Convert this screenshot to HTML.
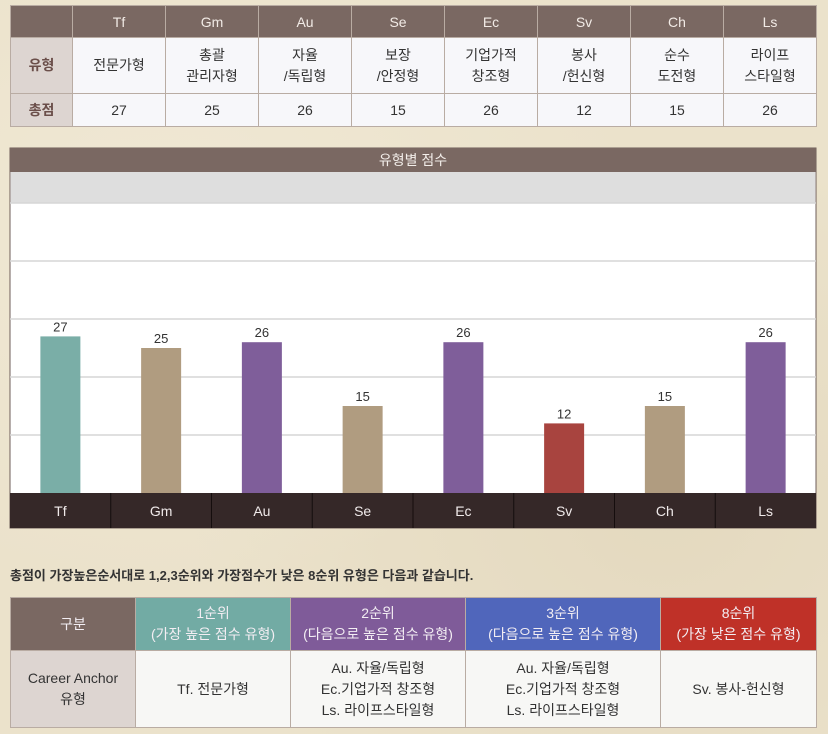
<!DOCTYPE html>
<html><head><meta charset="utf-8">
<style>
body{margin:0;width:828px;height:734px;background:#ebe2cb;font-family:"Liberation Sans","Noto Sans CJK KR",sans-serif;position:relative;overflow:hidden}
.bgt{position:absolute;inset:0;background:radial-gradient(ellipse at 20% 30%,#f0e8d4 0,transparent 50%),radial-gradient(ellipse at 80% 70%,#e4d9bf 0,transparent 50%)}
table{border-collapse:collapse;position:absolute;table-layout:fixed}
td{border:1px solid #b9aca3;text-align:center;font-size:14px;color:#333;padding:0}
#t1{left:10px;top:5px;width:806px}
#t1 .h td{background:#7a6862;color:#f2ebe6;height:31px}
#t1 .lab{background:#ddd5d1;color:#6b4f4a;font-weight:bold}
#t1 .r2 td{height:55px;background:#f7f7fa;line-height:21px}
#t1 .r3 td{height:32px;background:#f7f7fa}
#t1 .r2 td.lab,#t1 .r3 td.lab{background:#ddd5d1}
#t2{left:10px;top:597px;width:806px}
#t2 .h td{height:52px;color:#f3eef3;line-height:21px}
#t2 .b td{height:76px;background:#f7f7f5;line-height:21px;font-size:14px}
#note{position:absolute;left:10px;top:565px;font-size:13px;font-weight:bold;color:#333}
</style></head><body>
<div class="bgt"></div>
<table id="t1">
<colgroup><col style="width:62px"><col span="8" style="width:93px"></colgroup>
<tr class="h"><td></td><td>Tf</td><td>Gm</td><td>Au</td><td>Se</td><td>Ec</td><td>Sv</td><td>Ch</td><td>Ls</td></tr>
<tr class="r2"><td class="lab">유형</td><td>전문가형</td><td>총괄<br>관리자형</td><td>자율<br>/독립형</td><td>보장<br>/안정형</td><td>기업가적<br>창조형</td><td>봉사<br>/헌신형</td><td>순수<br>도전형</td><td>라이프<br>스타일형</td></tr>
<tr class="r3"><td class="lab">총점</td><td>27</td><td>25</td><td>26</td><td>15</td><td>26</td><td>12</td><td>15</td><td>26</td></tr>
</table>

<svg id="chart" style="position:absolute;left:0;top:0" width="828" height="560"></svg>

<div id="note">총점이 가장높은순서대로 1,2,3순위와 가장점수가 낮은 8순위 유형은 다음과 같습니다.</div>

<table id="t2">
<colgroup><col style="width:125px"><col style="width:155px"><col style="width:175px"><col style="width:195px"><col style="width:156px"></colgroup>
<tr class="h"><td style="background:#7a6862">구분</td><td style="background:#72aba4">1순위<br>(가장 높은 점수 유형)</td><td style="background:#7f5b99">2순위<br>(다음으로 높은 점수 유형)</td><td style="background:#5066bb">3순위<br>(다음으로 높은 점수 유형)</td><td style="background:#bf3128">8순위<br>(가장 낮은 점수 유형)</td></tr>
<tr class="b"><td style="background:#ddd5d1">Career Anchor<br>유형</td><td>Tf. 전문가형</td><td>Au. 자율/독립형<br>Ec.기업가적 창조형<br>Ls. 라이프스타일형</td><td>Au. 자율/독립형<br>Ec.기업가적 창조형<br>Ls. 라이프스타일형</td><td>Sv. 봉사-헌신형</td></tr>
</table>

<script>
const categories=["Tf","Gm","Au","Se","Ec","Sv","Ch","Ls"];
const scores=[27,25,26,15,26,12,15,26];
const barColors=["#7aaea7","#b09c80","#7f5e9a","#b09c80","#7f5e9a","#a8443f","#b09c80","#7f5e9a"];
const gridTicks=[10,20,30,40,50];
const NS="http://www.w3.org/2000/svg";
const svg=document.getElementById('chart');
const L=10,R=816,top0=148,plotTop=172,base=493,axB=528;
const pxPerUnit=5.8;
const y=v=>base-v*pxPerUnit;
const slot=(R-L)/categories.length;
const x=i=>L+slot*i+slot/2;
function mk(t,a){const e=document.createElementNS(NS,t);for(const k in a)e.setAttribute(k,a[k]);svg.appendChild(e);return e;}
let e=mk('rect',{x:L,y:top0,width:R-L,height:axB-top0,fill:'#fff',stroke:'#6d5d58'});


e=mk('rect',{x:L,y:top0,width:R-L,height:plotTop-top0,fill:'#7a6862'});


e=mk('text',{x:(L+R)/2,y:top0+17,'text-anchor':'middle','font-size':14,fill:'#f3eeea'});
e.textContent='유형별 점수';


e=mk('rect',{x:L+1,y:plotTop,width:R-L-2,height:y(50)-plotTop,fill:'#dedede'});


gridTicks.forEach(t=>{
 const g=mk('line',{x1:L,x2:R,y1:y(t),y2:y(t),stroke:'#d6d6d6','stroke-width':1.5});
 
 
});
categories.forEach((c,i)=>{
 const b=mk('rect',{x:x(i)-20,y:y(scores[i]),width:40,height:scores[i]*pxPerUnit,fill:barColors[i]});
 
 
 const v=mk('text',{x:x(i),y:y(scores[i])-5,'text-anchor':'middle','font-size':13,fill:'#333'});
 v.textContent=scores[i];
 
 
});
e=mk('rect',{x:L,y:base,width:R-L,height:axB-base,fill:'#352828'});


categories.forEach((c,i)=>{
 if(i>0){const s=mk('line',{x1:L+slot*i,x2:L+slot*i,y1:base,y2:axB,stroke:'#150d0d'});
 
 }
 const t=mk('text',{x:x(i),y:base+23,'text-anchor':'middle','font-size':14,fill:'#f0eaea'});
 t.textContent=c;
 
 
});
</script>
</body></html>
